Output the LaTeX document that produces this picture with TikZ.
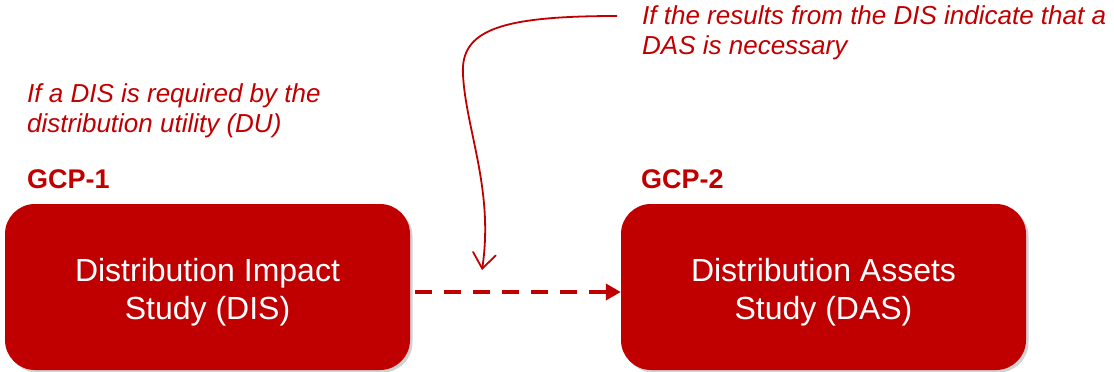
\documentclass[tikz,border=0pt]{standalone}
\usepackage{fontspec}
\setmainfont{Liberation Sans}
\usetikzlibrary{arrows.meta,shadows}
\definecolor{dured}{RGB}{192,0,0}
\tikzset{
  studybox/.style={draw=none, fill=dured, rounded corners=30pt,
    minimum width=405pt, minimum height=166pt,
    drop shadow={shadow xshift=2.5pt, shadow yshift=-2.5pt, opacity=0.3, fill=black!60}},
  studytext/.style={text=white, align=center, inner sep=0pt,
    font=\fontsize{32}{38}\selectfont},
  gcplabel/.style={anchor=base west, inner sep=0pt, text=dured,
    font=\fontsize{27}{32}\selectfont\bfseries},
  note/.style={anchor=base west, inner sep=0pt, text=dured, align=left,
    font=\fontsize{26}{30}\selectfont\itshape},
  flow/.style={draw=dured, line width=4pt, dash pattern=on 17pt off 12pt,
    -{Triangle[length=15pt,width=16pt]}},
  pointer/.style={draw=dured, line width=1.8pt,
    -{Straight Barb[length=15pt,width=23pt,line cap=round]}}
}
\begin{document}
\begin{tikzpicture}[x=1pt,y=-1pt]
  \useasboundingbox (0,0) rectangle (1114,372);

  % the two study stages
  \node[studybox] (dis) at (207.5,287) {};
  \node[studybox] (das) at (823.5,287) {};
  \node[studytext] (distext) at ([yshift=-5pt]dis.center) {Distribution Impact\\Study (DIS)};
  \node[studytext] (dastext) at ([yshift=-5pt]das.center) {Distribution Assets\\Study (DAS)};

  % stage labels
  \node[gcplabel] (gcp1) at (27,188) {GCP-1};
  \node[gcplabel] (gcp2) at (641,188) {GCP-2};

  % conditions (anchored at the baseline of their last line)
  \node[note] (cond1) at (27,132) {If a DIS is required by the\\distribution utility (DU)};
  \node[note] (cond2) at (642,54) {If the results from the DIS indicate that a\\DAS is necessary};

  % dashed transition between the stages
  \coordinate (flowstart) at ([xshift=5pt,yshift=-5pt]dis.east);
  \coordinate (flowend) at ([yshift=-5pt]das.west);
  \draw[flow] (flowstart) -- (flowend);

  % curved pointer from the second condition onto the transition
  \coordinate (ptrstart) at (617,16);
  \coordinate (ptrend) at (482,270);
  \draw[pointer] (ptrstart) .. controls (500,16) and (460,30) .. (463,75)
    .. controls (466,130) and (494,190) .. (ptrend);
\end{tikzpicture}
\end{document}
